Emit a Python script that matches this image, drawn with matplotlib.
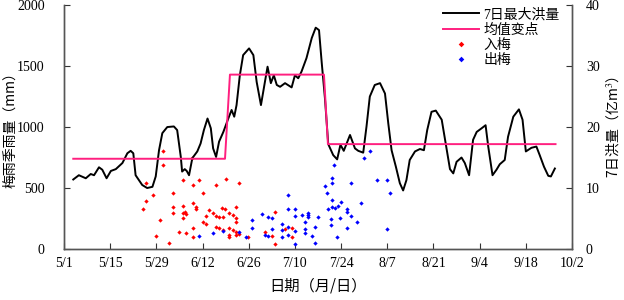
import matplotlib.pyplot as plt

plt.rcParams['font.family'] = ['Liberation Serif', 'Noto Sans CJK SC']
plt.rcParams['mathtext.fontset'] = 'stix'

# ____________ data (x = days since 5/1) ____________
tickDays = [0, 14, 28, 42, 56, 70, 84, 98, 112, 126, 140, 154]
tickLabels = ['5/1', '5/15', '5/29', '6/12', '6/26', '7/10', '7/24', '8/7',
              '8/21', '9/4', '9/18', '10/2']

# 7日最大洪量 (亿m3)
floodDay = [2.8, 4.5, 6.6, 8.1, 9.1, 10.6, 11.6, 12.9, 14.2, 15.7, 17.7, 19.2,
            20.2, 21.0, 21.7, 23.7, 25.2, 26.8, 27.8, 28.8, 29.8, 31.3, 33.3,
            34.3, 35.4, 35.8, 36.6, 37.2, 37.9, 38.9, 40.4, 41.4, 42.4, 43.5,
            44.5, 45.2, 46.1, 47.0, 48.3, 49.8, 50.8, 51.6, 52.3, 53.3, 54.3,
            56.1, 57.4, 58.4, 59.7, 60.9, 61.7, 62.7, 63.6, 64.5, 65.5, 67.0,
            69.0, 70.0, 71.0, 72.0, 73.5, 75.1, 76.3, 77.3, 78.1, 79.1, 80.1,
            81.6, 82.8, 83.8, 84.8, 86.7, 88.2, 89.2, 90.7, 91.7, 92.7, 94.2,
            95.8, 97.3, 98.3, 99.3, 100.6, 101.8, 102.8, 103.8, 104.8, 106.4,
            107.9, 109.1, 110.1, 111.4, 112.7, 114.5, 115.8, 117.0, 118.0,
            119.0, 120.5, 121.5, 122.8, 124.0, 125.1, 126.6, 127.8, 128.6,
            129.9, 131.1, 132.1, 133.6, 134.6, 136.2, 137.9, 139.0, 140.0,
            141.7, 143.2, 144.2, 145.5, 146.8, 147.6, 148.8]
floodVal = [11.4, 12.1, 11.6, 12.3, 12.1, 13.4, 13.0, 11.6, 12.8, 13.1, 14.1,
            15.7, 16.1, 15.7, 12.1, 10.5, 10.0, 10.2, 11.9, 16.2, 19.0, 20.0,
            20.1, 19.5, 15.1, 12.7, 13.1, 12.8, 12.1, 14.9, 16.0, 17.3, 19.5,
            21.4, 19.8, 16.5, 15.1, 17.6, 19.2, 21.4, 22.8, 21.7, 23.6, 28.5,
            31.8, 32.9, 31.8, 27.4, 23.6, 27.4, 29.9, 27.2, 28.5, 26.9, 26.6,
            27.2, 26.5, 28.5, 28.0, 29.1, 31.3, 34.6, 36.3, 35.9, 30.7, 24.7,
            17.2, 15.4, 14.7, 17.1, 16.1, 18.7, 16.5, 16.1, 15.8, 20.1, 25.0,
            26.9, 27.2, 25.5, 20.6, 16.2, 13.5, 10.8, 9.6, 11.3, 14.6, 16.0,
            16.4, 16.2, 19.5, 22.5, 22.7, 21.2, 17.0, 13.1, 12.4, 14.3, 15.0,
            14.1, 12.1, 17.9, 19.2, 19.8, 20.3, 16.8, 12.1, 13.0, 13.9, 14.6,
            18.4, 21.7, 22.9, 21.2, 16.0, 16.6, 16.8, 15.4, 13.5, 12.0, 11.9,
            13.2]

# 均值变点 (亿m3)
stepDay = [2.8, 48.8, 50.3, 78.8, 80.0, 149.0]
stepVal = [14.8, 14.8, 28.6, 28.6, 17.2, 17.2]

# 入梅 (mm)
inDay = [29.9, 29.9, 25.0, 27.0, 25.0, 24.0, 29.1, 27.9, 31.9, 36.0, 32.9,
         39.0, 38.9, 41.0, 42.0, 46.1, 49.1, 53.1, 39.0, 40.0, 40.0, 36.0,
         32.9, 32.9, 36.0, 36.7, 37.0, 36.0, 44.0, 45.1, 43.0, 46.1, 47.1,
         48.1, 47.8, 48.8, 50.1, 52.1, 51.1, 52.1, 52.1, 42.0, 43.0, 46.1,
         47.1, 50.1, 48.1, 51.1, 52.1, 50.1, 52.1, 39.0, 37.0, 34.9, 39.0,
         50.1, 53.1, 63.9, 60.9, 62.9, 67.0, 69.0, 69.0, 63.9, 55.8]
inRain = [806, 689, 541, 443, 390, 326, 238, 107, 49, 564, 463, 521, 750, 564,
          457, 521, 578, 539, 375, 347, 328, 355, 342, 293, 293, 301, 287, 252,
          320, 293, 273, 271, 260, 260, 334, 326, 298, 347, 279, 252, 224, 224,
          203, 183, 170, 170, 156, 156, 142, 115, 115, 170, 134, 142, 96, 101,
          123, 306, 142, 107, 162, 170, 96, 41, 96]

# 出梅 (mm)
outDay = [41.0, 45.1, 48.1, 53.1, 55.2, 57.1, 57.1, 68.0, 68.0, 70.0, 70.0,
          72.0, 74.0, 74.0, 74.0, 73.0, 73.0, 73.0, 70.0, 66.0, 66.0, 66.0,
          68.0, 68.0, 70.0, 62.9, 61.9, 59.9, 60.9, 62.9, 61.9, 76.1, 75.1,
          76.1, 77.1, 80.1, 81.1, 82.1, 83.1, 83.9, 81.1, 79.8, 79.1, 81.1,
          81.1, 81.9, 87.0, 85.8, 85.8, 86.9, 89.9, 88.9, 85.8, 80.8, 80.8,
          83.8, 82.8, 90.9, 92.9, 95.0, 98.0, 98.9, 98.0]
outRain = [107, 134, 148, 142, 96, 238, 170, 443, 328, 326, 271, 279, 298, 279,
           265, 224, 162, 134, 150, 205, 156, 96, 178, 115, 41, 252, 260, 287,
           115, 162, 107, 183, 107, 47, 265, 326, 347, 339, 355, 388, 402, 462,
           517, 539, 580, 689, 544, 326, 306, 271, 375, 224, 170, 246, 197, 252,
           96, 750, 806, 566, 566, 457, 162]

# ____________________________ plot ____________________________
fig = plt.figure(figsize=(6.24, 3.0), dpi=100)
ax = fig.add_axes([0.1026, 0.17, 0.8141, 0.813])
ax2 = ax.twinx()

pRed, = ax.plot(inDay, inRain, 'D', color='#ff0000', markersize=2.2, mew=0)
pBlue, = ax.plot(outDay, outRain, 'D', color='#0000ff', markersize=2.2, mew=0)
lBlack, = ax2.plot(floodDay, floodVal, color='black', lw=1.4)
lPink, = ax2.plot(stepDay, stepVal, color='#ff1f7f', lw=1.4)

ax.set_xlim(0, 154)
ax.set_ylim(0, 2000)
ax2.set_ylim(0, 40)
ax.set_xticks(tickDays)
ax.set_xticklabels(tickLabels)
ax.set_yticks([0, 500, 1000, 1500, 2000])
ax2.set_yticks([0, 10, 20, 30, 40])

for a in (ax, ax2):
    a.tick_params(direction='in', length=4, labelsize=10, width=0.8,
                  colors='#333333', labelcolor='black')
    a.spines['top'].set_visible(False)
    for s in a.spines.values():
        s.set_color('#555555')
        s.set_linewidth(1.0)
ax.tick_params(axis='x', pad=6)
ax.tick_params(axis='y', pad=14)
ax2.tick_params(axis='y', pad=10)

ax.set_xlabel('日期（月/日）', family=['Noto Sans CJK SC'], fontsize=11, labelpad=5)
ax.set_ylabel('梅雨季雨量（mm）', family=['Noto Sans CJK SC', 'Liberation Serif'],
              fontsize=10)
ax2.set_ylabel('7日洪量（亿m$^3$）', family=['Noto Sans CJK SC', 'Liberation Serif'],
               fontsize=10)
ax.yaxis.set_label_coords(-0.092, 0.5)
ax2.yaxis.set_label_coords(1.062, 0.5)

ax2.legend([lBlack, lPink, pRed, pBlue], ['7日最大洪量', '均值变点', '入梅', '出梅'],
           loc='upper right', bbox_to_anchor=(1.0, 1.04), frameon=False,
           prop={'family': ['Liberation Serif', 'Noto Sans CJK SC'], 'size': 10},
           handlelength=2.6, handletextpad=0.3, labelspacing=0.15, markerscale=1.3)

fig.savefig('out.png', dpi=100)
